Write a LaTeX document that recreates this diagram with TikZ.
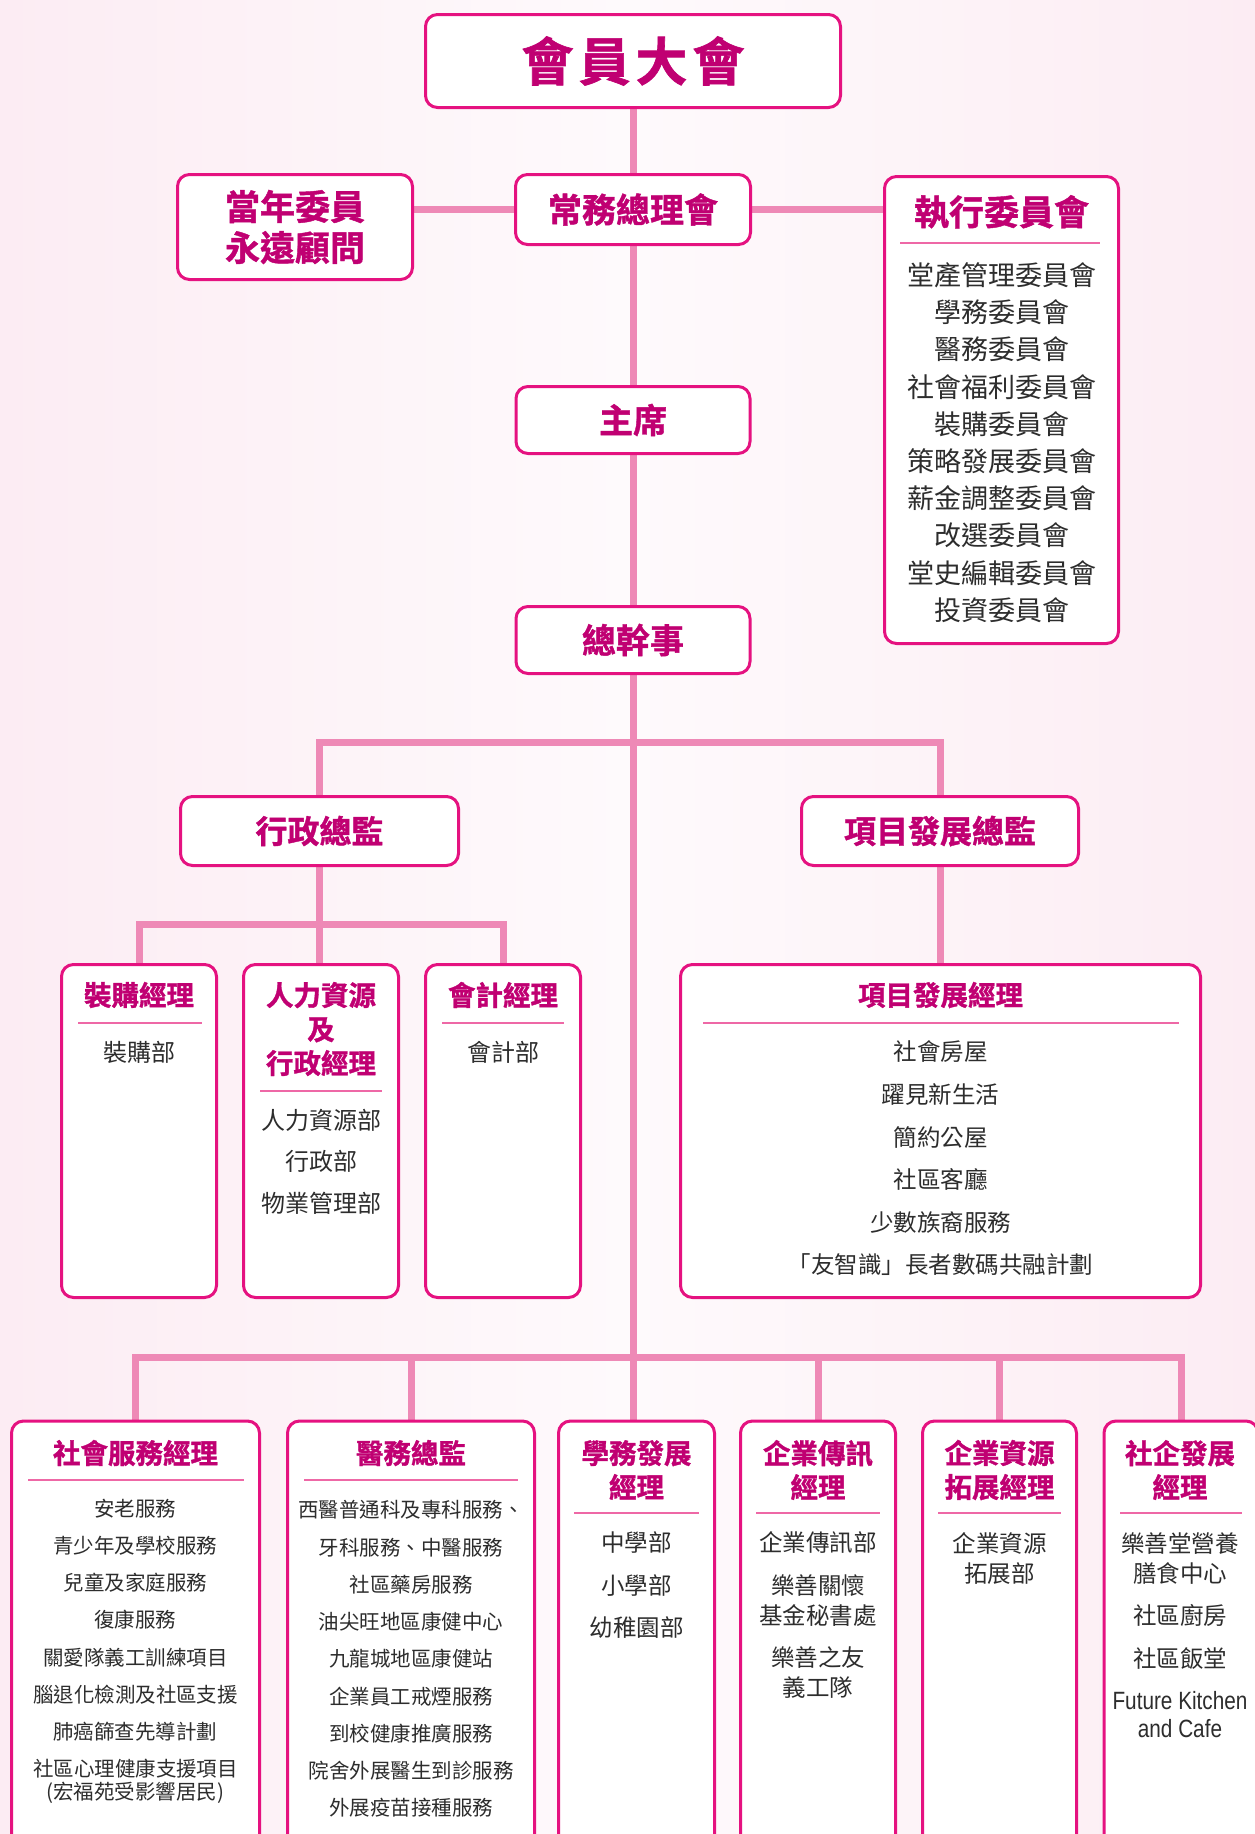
\documentclass[tikz,border=0pt]{standalone}
\usepackage{fontspec}
\setmainfont{Noto Sans CJK TC}[BoldFont={Noto Sans CJK TC Bold}, BoldFeatures={FakeBold=1.2}]
\newfontfamily\narrowfont{Liberation Sans}[FakeStretch=0.83]
\usetikzlibrary{backgrounds}

\definecolor{boxline}{RGB}{229,18,128}
\definecolor{headtext}{RGB}{192,0,114}
\definecolor{linkpink}{RGB}{238,137,182}
\definecolor{divpink}{RGB}{238,104,166}
\definecolor{itemtext}{RGB}{45,45,45}
\definecolor{bgpink}{RGB}{252,236,243}
\definecolor{bglight}{RGB}{254,250,252}

\tikzset{
  box/.style={draw=boxline, line width=3pt, rounded corners=12pt, fill=white, inner sep=0pt},
  link/.style={draw=linkpink, line width=7pt},
  divider/.style={draw=divpink, line width=2.5pt},
  head/.style 2 args={text=headtext, align=center, inner sep=0pt, font=\bfseries\fontsize{#1}{#2}\selectfont},
  items/.style 2 args={text=itemtext, align=center, inner sep=0pt, font=\fontsize{#1}{#2}\selectfont},
}
\newcommand\latinline[1]{{\narrowfont\fontsize{25}{30}\selectfont #1}}

\begin{document}
\begin{tikzpicture}[x=1pt,y=1pt,yscale=-1]
\clip (0,0) rectangle (1255,1834);
\useasboundingbox (0,0) rectangle (1255,1834);

% top levels
\node[box, head={52}{52}, minimum width=415, minimum height=93] (gm) at (633,61) {會\hspace{5pt}員\hspace{5pt}大\hspace{5pt}會};
\node[box, head={34}{34}, minimum width=235, minimum height=70] (sc) at (633,209.5) {常務總理會};
\node[box, head={35}{41}, minimum width=235, minimum height=105] (past) at (295,227) {當年委員\\永遠顧問};
\node[box, minimum width=234, minimum height=467] (exec) at (1001.5,410) {};
\node[box, head={34}{34}, minimum width=234, minimum height=67] (chair) at (633,420) {主席};
\node[box, head={34}{34}, minimum width=234, minimum height=67] (gs) at (633,640) {總幹事};

% directors
\node[box, head={32}{32}, minimum width=278, minimum height=69] (admin) at (319.5,831) {行政總監};
\node[box, head={32}{32}, minimum width=277, minimum height=69] (pdir) at (940,831) {項目發展總監};

% managers
\node[box, minimum width=155, minimum height=333] (proc) at (139,1131) {};
\node[box, minimum width=155, minimum height=333] (hr) at (321,1131) {};
\node[box, minimum width=155, minimum height=333] (acct) at (503,1131) {};
\node[box, minimum width=520, minimum height=333] (pmgr) at (940.5,1131) {};

% bottom row, runs off the page
\node[box, minimum width=248, minimum height=460] (social) at (135.5,1651) {};
\node[box, minimum width=247, minimum height=460] (med) at (411,1651) {};
\node[box, minimum width=156, minimum height=460] (edu) at (636.5,1651) {};
\node[box, minimum width=155, minimum height=460] (comm) at (818,1651) {};
\node[box, minimum width=154, minimum height=460] (corp) at (999.5,1651) {};
\node[box, minimum width=154, minimum height=460] (se) at (1181,1651) {};

% connectors
\begin{scope}[on background layer]
\shade[left color=bgpink, right color=bgpink, middle color=bglight] (0,0) rectangle (1255,1834);
\draw[link] (gm) -- (sc);
\draw[link] (sc.west) -- (sc.west -| past.east);
\draw[link] (sc.east) -- (sc.east -| exec.west);
\draw[link] (sc) -- (chair);
\draw[link] (chair) -- (gs);
\draw[link] (gs.south) -- (gs.south |- edu.north);
\draw[link] (admin.north) |- (gs.south |- 0,742) -| (pdir.north);
\draw[link] (proc.north) |- (admin.south |- 0,924) -| (acct.north);
\draw[link] (admin.south) -- (admin.south |- hr.north);
\draw[link] (pdir.south) -- (pdir.south |- pmgr.north);
\draw[link] (social.north) |- (gs.south |- 0,1357) -| (se.north);
\foreach \n in {med,comm,corp} \draw[link] (\n.north) -- (\n.north |- 0,1357);
\end{scope}

% dividers
\foreach \xa/\xb/\y in {900/1100/243, 78/202/1023, 260/382/1091, 442/564/1023, 703/1179/1023, 28/244/1480, 304/518/1480, 574/699/1513, 756/880/1513, 938/1061/1513, 1120/1242/1513}
  \draw[divider] (\xa,\y) -- (\xb,\y);

% texts
\node[head={35}{35}] (exec-t) at (1001.5,212) {執行委員會};
\node[items={27}{37.2}] (exec-l) at (1001.5,442.5) {堂產管理委員會\\學務委員會\\醫務委員會\\社會福利委員會\\裝購委員會\\策略發展委員會\\薪金調整委員會\\改選委員會\\堂史編輯委員會\\投資委員會};

\node[head={27.5}{34}] (proc-t) at (139,995) {裝購經理};
\node[items={24}{41.5}] (proc-l) at (139,1052) {裝購部};
\node[head={27.5}{34}] (hr-t) at (321,1029) {人力資源\\及\\行政經理};
\node[items={24}{41.5}] (hr-l) at (321,1161.5) {人力資源部\\行政部\\物業管理部};
\node[head={27.5}{34}] (acct-t) at (503,995) {會計經理};
\node[items={24}{41.5}] (acct-l) at (503,1052) {會計部};
\node[head={27.5}{34}] (pmgr-t) at (940.5,995) {項目發展經理};
\node[items={23.5}{42.6}] (pmgr-l) at (940.5,1158.5) {社會房屋\\躍見新生活\\簡約公屋\\社區客廳\\少數族裔服務\\「友智識」長者數碼共融計劃};

\node[head={27.5}{34}] (social-t) at (135.5,1453) {社會服務經理};
\node[items={20.5}{37.2}] (social-l) at (135.5,1651.5) {安老服務\\青少年及學校服務\\兒童及家庭服務\\復康服務\\關愛隊義工訓練項目\\腦退化檢測及社區支援\\肺癌篩查先導計劃\\社區心理健康支援項目\\[-14pt](宏福苑受影響居民)};
\node[head={27.5}{34}] (med-t) at (411,1453) {醫務總監};
\node[items={20.5}{37.25}] (med-l) at (411,1659) {西醫普通科及專科服務、\\牙科服務、中醫服務\\社區藥房服務\\油尖旺地區康健中心\\九龍城地區康健站\\企業員工戒煙服務\\到校健康推廣服務\\院舍外展醫生到診服務\\外展疫苗接種服務};
\node[head={27.5}{34}] (edu-t) at (636.5,1470) {學務發展\\經理};
\node[items={23.5}{42.5}] (edu-l) at (636.5,1585.5) {中學部\\小學部\\幼稚園部};
\node[head={27.5}{34}] (comm-t) at (818,1470) {企業傳訊\\經理};
\node[items={23.5}{30}] (comm-l) at (818,1615) {企業傳訊部\\[12.5pt]樂善關懷\\基金秘書處\\[12.5pt]樂善之友\\義工隊};
\node[head={27.5}{34}] (corp-t) at (999.5,1470) {企業資源\\拓展經理};
\node[items={23.5}{30}] (corp-l) at (999.5,1558) {企業資源\\拓展部};
\node[head={27.5}{34}] (se-t) at (1180,1470) {社企發展\\經理};
\node[items={23.5}{30}] (se-l) at (1180,1635.5) {樂善堂營養\\膳食中心\\[12pt]社區廚房\\[13pt]社區飯堂\\[12pt]\latinline{Future Kitchen}\\[-2pt]\latinline{and Cafe}};
\end{tikzpicture}
\end{document}
